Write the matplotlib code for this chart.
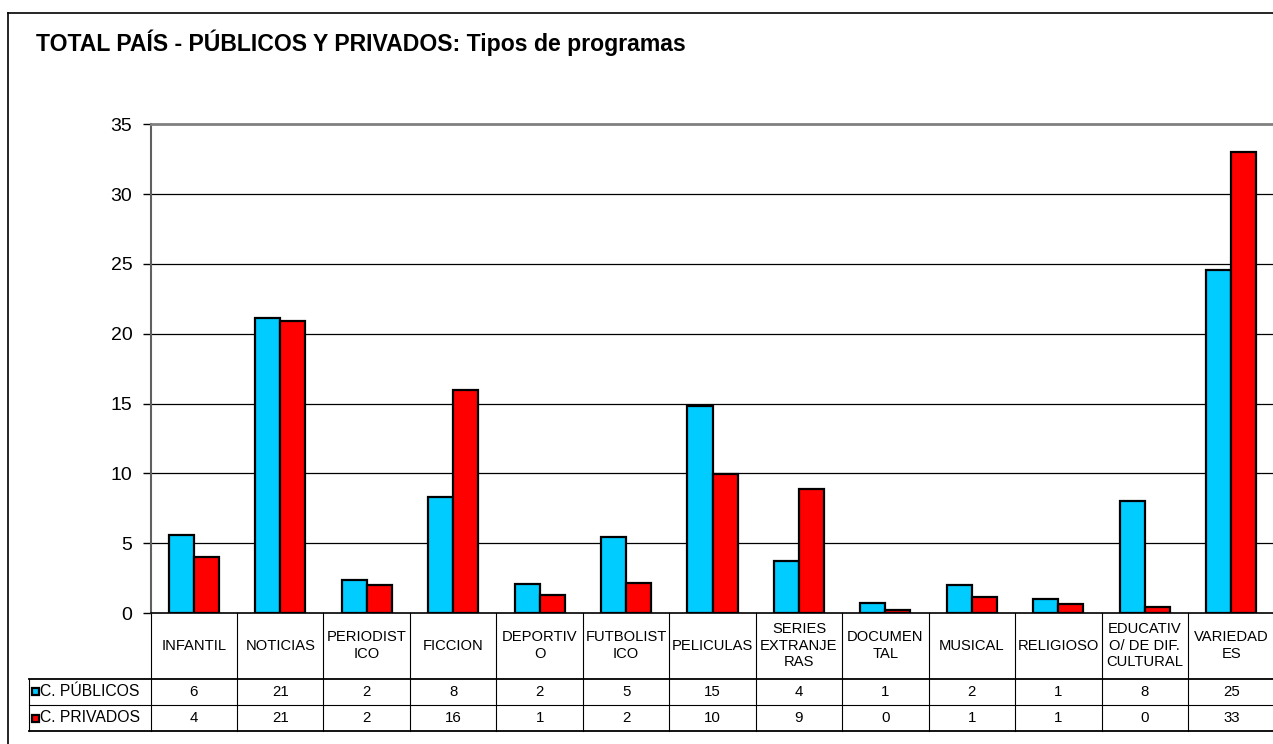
import numpy as np
import matplotlib.pyplot as plt
from matplotlib.transforms import blended_transform_factory
from matplotlib.patches import Rectangle

plt.rcParams['font.family'] = ['Liberation Sans', 'DejaVu Sans']

categories = ["INFANTIL", "NOTICIAS", "PERIODIST\nICO", "FICCION", "DEPORTIV\nO",
              "FUTBOLIST\nICO", "PELICULAS", "SERIES\nEXTRANJE\nRAS", "DOCUMEN\nTAL",
              "MUSICAL", "RELIGIOSO", "EDUCATIV\nO/ DE DIF.\nCULTURAL", "VARIEDAD\nES"]
publicos = [5.58, 21.1, 2.36, 8.33, 2.05, 5.46, 14.8, 3.73, 0.69, 1.97, 1.03, 8.0, 24.55]
privados = [3.99, 20.9, 2.0, 15.97, 1.26, 2.16, 9.97, 8.87, 0.19, 1.14, 0.66, 0.41, 33.0]
series_names = ["C. PÚBLICOS", "C. PRIVADOS"]
colors = ["#00CCFF", "#FF0000"]

W, H = 1273, 744
fig = plt.figure(figsize=(W / 100, H / 100), dpi=100)


def fx(px):
    return px / W


def fy(py):
    return 1 - py / H


# plot area in pixels
left, right, top, bottom = 150.5, 1274.5, 124.3, 613
ax = fig.add_axes([fx(left), fy(bottom), fx(right - left), (bottom - top) / H])

x = np.arange(len(categories))
bw = 0.29
ax.bar(x - bw / 2, publicos, bw, color=colors[0], edgecolor="black", linewidth=1.6, zorder=3)
ax.bar(x + bw / 2, privados, bw, color=colors[1], edgecolor="black", linewidth=1.6, zorder=3)

ax.set_xlim(-0.5, len(categories) - 0.5)
ax.set_ylim(0, 35)
ax.set_yticks(range(0, 36, 5))
ax.tick_params(axis="y", labelsize=14, length=6, width=1, color="black", pad=7)
ax.set_xticks([])
for y in range(5, 35, 5):
    ax.axhline(y, color="black", linewidth=0.9, zorder=1)
ax.spines["right"].set_visible(False)
ax.spines["top"].set_color("#808080")
ax.spines["top"].set_linewidth(2)
ax.spines["left"].set_color("#606060")
ax.spines["left"].set_linewidth(1.5)
ax.spines["bottom"].set_color("black")
ax.spines["bottom"].set_linewidth(1.2)

# data table under the axis
tr = blended_transform_factory(ax.transData, fig.transFigure)
row_tops = [613, 678.5, 705, 731]
lab_left = 29
for i in range(len(categories) + 1):
    xb = i - 0.5
    ax.plot([xb, xb], [fy(row_tops[0]), fy(row_tops[3])], transform=tr, color="black",
            linewidth=0.8, clip_on=False)
for py, lw in [(row_tops[1], 1.3), (row_tops[2], 0.8), (row_tops[3], 1.3)]:
    fig.add_artist(plt.Line2D([fx(lab_left), fx(right + 5)], [fy(py), fy(py)],
                              color="black", linewidth=lw))
fig.add_artist(plt.Line2D([fx(lab_left), fx(lab_left)], [fy(row_tops[1]), fy(row_tops[3])],
                          color="black", linewidth=0.8))

for i, cat in enumerate(categories):
    ax.text(i, fy((row_tops[0] + row_tops[1]) / 2), cat, transform=tr, ha="center",
            va="center", fontsize=10.6, linespacing=1.25, clip_on=False)
    for r, vals in enumerate([publicos, privados]):
        ax.text(i, fy((row_tops[r + 1] + row_tops[r + 2]) / 2), f"{round(vals[i]):d}",
                transform=tr, ha="center", va="center", fontsize=10.8, clip_on=False)

for r, name in enumerate(series_names):
    yc = (row_tops[r + 1] + row_tops[r + 2]) / 2
    fig.add_artist(Rectangle((fx(31.5), fy(yc + 3.5)), 7 / W, 7 / H, facecolor=colors[r],
                             edgecolor="black", linewidth=1.6))
    fig.text(fx(39.5), fy(yc), name, ha="left", va="center", fontsize=11.3)

# chart border and title
fig.add_artist(plt.Line2D([fx(8), fx(8)], [fy(13), 0], color="black", linewidth=1.2))
fig.add_artist(plt.Line2D([fx(8), 1], [fy(13), fy(13)], color="black", linewidth=1.2))
fig.text(fx(36), fy(43), "TOTAL PAÍS - PÚBLICOS Y PRIVADOS: Tipos de programas",
         ha="left", va="center", fontsize=16.6, fontweight="bold")

fig.savefig("out.png", dpi=100)
